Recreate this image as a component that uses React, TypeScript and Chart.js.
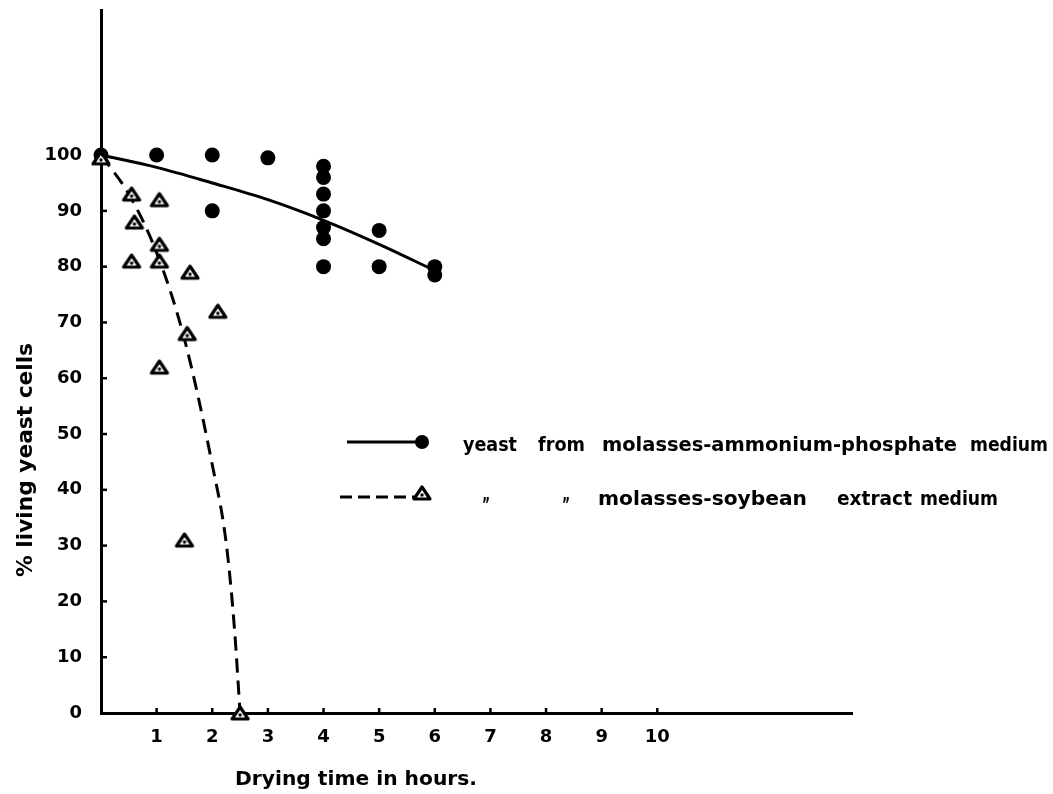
import { useEffect, useRef } from "react";
import { Chart, registerables } from "chart.js";

Chart.register(...registerables);

// ---- data ----
const ammoniumHours = [0, 1, 2, 3, 2, 4, 4, 4, 4, 4, 4, 4, 5, 5, 6, 6];
const ammoniumLiving = [100, 100, 100, 99.5, 90, 98, 96, 93, 90, 87, 85, 80, 86.5, 80, 80, 78.5];

const soybeanHours = [0, 0.55, 1.05, 0.6, 1.05, 0.55, 1.05, 1.6, 2.1, 1.55, 1.05, 1.5, 2.5];
const soybeanLiving = [99.5, 93, 92, 88, 84, 81, 81, 79, 72, 68, 62, 31, 0];

const ammoniumFitHours = [0, 1, 2, 3, 4, 5, 6];
const ammoniumFitLiving = [100, 97.8, 95, 92, 88.3, 84, 79.3];

const soybeanFitHours = [0, 0.5, 1, 1.5, 2, 2.25, 2.4, 2.5];
const soybeanFitLiving = [100, 93, 82.5, 67, 44.5, 30.5, 15, 0];

const xTickHours = [1, 2, 3, 4, 5, 6, 7, 8, 9, 10];
const yTickValues = [0, 10, 20, 30, 40, 50, 60, 70, 80, 90, 100];

const xTitle = "Drying time in hours.";
const yTitle = "% living yeast cells";
const legendLine1 = ["yeast", "from", "molasses-ammonium-phosphate", "medium"];
const legendLine2 = ["molasses-soybean", "extract", "medium"];
const dittoMark = "\u201D";

const FONT_FAMILY = '"DejaVu Sans", "Noto Sans", sans-serif';

function toPoints(xs: number[], ys: number[]) {
  return xs.map((x, i) => ({ x, y: ys[i] }));
}

function makeTriangle(): HTMLCanvasElement {
  const c = document.createElement("canvas");
  c.width = 26;
  c.height = 26;
  const g = c.getContext("2d")!;
  g.fillStyle = "#fff";
  g.strokeStyle = "#000";
  g.lineWidth = 3.2;
  g.lineJoin = "round";
  g.beginPath();
  g.moveTo(13, 7);
  g.lineTo(21, 19);
  g.lineTo(5, 19);
  g.closePath();
  g.fill();
  g.stroke();
  g.fillStyle = "#000";
  g.beginPath();
  g.arc(13, 15, 1.7, 0, Math.PI * 2);
  g.fill();
  return c;
}

function fitText(
  ctx: CanvasRenderingContext2D,
  text: string,
  x0: number,
  x1: number,
  baseline: number,
  font: string
) {
  ctx.save();
  ctx.font = font;
  ctx.fillStyle = "#000";
  ctx.textAlign = "left";
  ctx.textBaseline = "alphabetic";
  const w = ctx.measureText(text).width;
  ctx.translate(x0, baseline);
  ctx.scale((x1 - x0) / w, 1);
  ctx.fillText(text, 0, 0);
  ctx.restore();
}

export default function App() {
  const canvasRef = useRef<HTMLCanvasElement | null>(null);

  useEffect(() => {
    const canvas = canvasRef.current;
    if (!canvas) return;
    const tri = makeTriangle();

    const decorations = {
      id: "decorations",
      afterDraw(chart: any) {
        const ctx: CanvasRenderingContext2D = chart.ctx;
        const xs = chart.scales.x;
        const ys = chart.scales.y;
        const area = chart.chartArea;
        ctx.save();
        ctx.strokeStyle = "#000";
        ctx.lineWidth = 2.5;
        // inward tick marks
        xTickHours.forEach((h) => {
          const px = xs.getPixelForValue(h);
          ctx.beginPath();
          ctx.moveTo(px, area.bottom);
          ctx.lineTo(px, area.bottom - 5);
          ctx.stroke();
        });
        yTickValues.forEach((v) => {
          if (v === 0) return;
          const py = ys.getPixelForValue(v);
          ctx.beginPath();
          ctx.moveTo(area.left, py);
          ctx.lineTo(area.left + 6, py);
          ctx.stroke();
        });

        // axis titles
        fitText(ctx, xTitle, 235, 477, 785, `bold 19px ${FONT_FAMILY}`);
        ctx.save();
        ctx.translate(32, 577);
        ctx.rotate(-Math.PI / 2);
        fitText(ctx, yTitle, 0, 234, 0, `bold 21px ${FONT_FAMILY}`);
        ctx.restore();

        // legend
        ctx.lineWidth = 3;
        ctx.beginPath();
        ctx.moveTo(347, 442);
        ctx.lineTo(421, 442);
        ctx.stroke();
        ctx.fillStyle = "#000";
        ctx.beginPath();
        ctx.arc(422, 442, 7, 0, Math.PI * 2);
        ctx.fill();

        ctx.setLineDash([12, 6]);
        ctx.beginPath();
        ctx.moveTo(340, 497);
        ctx.lineTo(417, 497);
        ctx.stroke();
        ctx.setLineDash([]);
        ctx.drawImage(tri, 422 - 13, 493 - 13);

        const lf = `bold 20px ${FONT_FAMILY}`;
        const pos1: [number, number][] = [
          [463, 517],
          [538, 585],
          [602, 957],
          [970, 1048],
        ];
        legendLine1.forEach((w, i) => fitText(ctx, w, pos1[i][0], pos1[i][1], 451, lf));
        const pos2: [number, number][] = [
          [598, 807],
          [837, 912],
          [920, 998],
        ];
        legendLine2.forEach((w, i) => fitText(ctx, w, pos2[i][0], pos2[i][1], 505, lf));
        fitText(ctx, dittoMark, 482, 490, 511, `bold 20px ${FONT_FAMILY}`);
        fitText(ctx, dittoMark, 562, 570, 511, `bold 20px ${FONT_FAMILY}`);
        ctx.restore();
      },
    };

    const tickFont = { family: FONT_FAMILY, size: 18, weight: "bold" as const };

    const chart = new Chart(canvas, {
      type: "scatter",
      data: {
        datasets: [
          {
            label: "yeast from molasses-ammonium-phosphate medium",
            data: toPoints(ammoniumHours, ammoniumLiving),
            pointStyle: "circle",
            pointRadius: 7.5,
            pointBackgroundColor: "#000",
            pointBorderWidth: 0,
            showLine: false,
            order: 2,
            clip: false as any,
          },
          {
            label: "yeast from molasses-soybean extract medium",
            data: toPoints(soybeanHours, soybeanLiving),
            pointStyle: tri as any,
            pointRadius: 9,
            showLine: false,
            order: 1,
            clip: false as any,
          },
          {
            label: "ammonium fit",
            data: toPoints(ammoniumFitHours, ammoniumFitLiving),
            showLine: true,
            pointRadius: 0,
            borderColor: "#000",
            borderWidth: 3,
            cubicInterpolationMode: "monotone",
            order: 3,
            clip: false as any,
          },
          {
            label: "soybean fit",
            data: toPoints(soybeanFitHours, soybeanFitLiving),
            showLine: true,
            pointRadius: 0,
            borderColor: "#000",
            borderWidth: 3,
            borderDash: [14, 8],
            cubicInterpolationMode: "monotone",
            order: 4,
            clip: false as any,
          },
        ],
      },
      options: {
        animation: false,
        responsive: false,
        events: [],
        layout: { padding: { left: 0, right: 201, top: 9, bottom: 0 } },
        plugins: {
          legend: { display: false },
          tooltip: { enabled: false },
          title: { display: false },
        },
        scales: {
          x: {
            type: "linear",
            min: 0,
            max: 13.5,
            afterBuildTicks: (s: any) => {
              s.ticks = xTickHours.map((v) => ({ value: v }));
            },
            afterFit: (s: any) => {
              s.height = 81;
              s.paddingLeft = 0;
              s.paddingRight = 0;
            },
            ticks: {
              autoSkip: false,
              maxRotation: 0,
              color: "#000",
              font: tickFont,
              padding: 14,
              callback: (v: any) => String(v),
            },
            grid: { display: false, drawTicks: false },
            border: { display: true, color: "#000", width: 3 },
          },
          y: {
            type: "linear",
            min: 0,
            max: 126,
            afterBuildTicks: (s: any) => {
              s.ticks = yTickValues.map((v) => ({ value: v }));
            },
            afterFit: (s: any) => {
              s.width = 101;
              s.paddingTop = 0;
              s.paddingBottom = 0;
            },
            ticks: {
              autoSkip: false,
              color: "#000",
              font: tickFont,
              padding: 19,
              callback: (v: any) => String(v),
            },
            grid: { display: false, drawTicks: false },
            border: { display: true, color: "#000", width: 3 },
          },
        },
      },
      plugins: [decorations],
    });

    return () => chart.destroy();
  }, []);

  return (
    <div
      style={{
        position: "absolute",
        left: 0,
        top: 0,
        width: 1053,
        height: 794,
        background: "#fff",
      }}
    >
      <canvas ref={canvasRef} width={1053} height={794} style={{ display: "block" }} />
    </div>
  );
}
